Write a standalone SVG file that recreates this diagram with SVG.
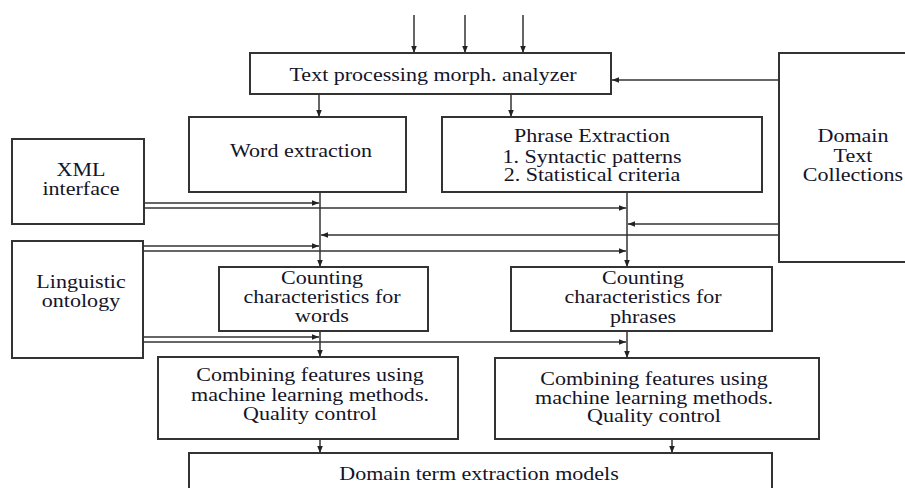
<svg xmlns="http://www.w3.org/2000/svg" width="905" height="488" viewBox="0 0 905 488">
<style>
.box{fill:#fff;stroke:#333;stroke-width:2}
.t{font-family:'Liberation Serif','Times New Roman',serif;font-size:19px;fill:#141428;text-anchor:middle}
.c{stroke:#333;stroke-width:1.5;fill:none}
.a{marker-end:url(#ah)}
</style>
<defs>
<marker id="ah" viewBox="0 0 10 10" refX="10" refY="5" markerWidth="7" markerHeight="7" markerUnits="userSpaceOnUse" orient="auto">
<path d="M0,1 L10,5 L0,9 Z" fill="#222"/>
</marker>
</defs>
<rect width="905" height="488" fill="#fff"/>
<g id="connectors">
<line class="c a" x1="414" y1="15" x2="414" y2="53"/>
<line class="c a" x1="465" y1="15" x2="465" y2="53"/>
<line class="c a" x1="523" y1="15" x2="523" y2="53"/>
<line class="c a" x1="779" y1="80" x2="612" y2="80"/>
<line class="c a" x1="319" y1="94" x2="319" y2="117"/>
<line class="c a" x1="511" y1="94" x2="511" y2="117"/>
<line class="c a" x1="320" y1="192" x2="320" y2="267"/>
<line class="c a" x1="627" y1="192" x2="627" y2="267"/>
<line class="c a" x1="144" y1="203" x2="319" y2="203"/>
<line class="c a" x1="144" y1="208" x2="626" y2="208"/>
<line class="c a" x1="779" y1="224" x2="628" y2="224"/>
<line class="c a" x1="779" y1="235" x2="321" y2="235"/>
<line class="c a" x1="143" y1="246" x2="319" y2="246"/>
<line class="c a" x1="143" y1="251" x2="626" y2="251"/>
<line class="c a" x1="143" y1="337" x2="319" y2="337"/>
<line class="c a" x1="143" y1="342" x2="626" y2="342"/>
<line class="c a" x1="320" y1="331" x2="320" y2="357"/>
<line class="c a" x1="627" y1="331" x2="627" y2="358"/>
<line class="c a" x1="320" y1="439" x2="320" y2="453"/>
<line class="c a" x1="672" y1="439" x2="672" y2="453"/>
</g>
<g id="text-processing">
<rect class="box" x="250" y="53" width="361" height="41"/>
<text class="t" transform="matrix(1.16,0,0,1,433,81)">Text processing morph. analyzer</text>
</g>
<g id="domain-text-collections">
<rect class="box" x="779" y="53" width="140" height="209"/>
<text class="t" transform="matrix(1.16,0,0,1,853,142)">Domain</text>
<text class="t" transform="matrix(1.16,0,0,1,853,162)">Text</text>
<text class="t" transform="matrix(1.16,0,0,1,853,181)">Collections</text>
</g>
<g id="word-extraction">
<rect class="box" x="189" y="117" width="217" height="75"/>
<text class="t" transform="matrix(1.16,0,0,1,301,157)">Word extraction</text>
</g>
<g id="phrase-extraction">
<rect class="box" x="442" y="117" width="320" height="75"/>
<text class="t" transform="matrix(1.16,0,0,1,592,142)">Phrase Extraction</text>
<text class="t" transform="matrix(1.16,0,0,1,592,163)">1. Syntactic patterns</text>
<text class="t" transform="matrix(1.16,0,0,1,592,181)">2. Statistical criteria</text>
</g>
<g id="xml-interface">
<rect class="box" x="12" y="139" width="132" height="85"/>
<text class="t" transform="matrix(1.16,0,0,1,81,176)">XML</text>
<text class="t" transform="matrix(1.16,0,0,1,81,195)">interface</text>
</g>
<g id="linguistic-ontology">
<rect class="box" x="12" y="241" width="131" height="117"/>
<text class="t" transform="matrix(1.16,0,0,1,81,288)">Linguistic</text>
<text class="t" transform="matrix(1.16,0,0,1,81,307)">ontology</text>
</g>
<g id="counting-words">
<rect class="box" x="219" y="267" width="209" height="64"/>
<text class="t" transform="matrix(1.16,0,0,1,322,284)">Counting</text>
<text class="t" transform="matrix(1.16,0,0,1,322,303)">characteristics for</text>
<text class="t" transform="matrix(1.16,0,0,1,322,322)">words</text>
</g>
<g id="counting-phrases">
<rect class="box" x="511" y="267" width="261" height="64"/>
<text class="t" transform="matrix(1.16,0,0,1,643,284)">Counting</text>
<text class="t" transform="matrix(1.16,0,0,1,643,303)">characteristics for</text>
<text class="t" transform="matrix(1.16,0,0,1,643,323)">phrases</text>
</g>
<g id="combining-words">
<rect class="box" x="158" y="357" width="300" height="82"/>
<text class="t" transform="matrix(1.16,0,0,1,310,381)">Combining features using</text>
<text class="t" transform="matrix(1.16,0,0,1,310,401)">machine learning methods.</text>
<text class="t" transform="matrix(1.16,0,0,1,310,420)">Quality control</text>
</g>
<g id="combining-phrases">
<rect class="box" x="495" y="358" width="324" height="81"/>
<text class="t" transform="matrix(1.16,0,0,1,654,385)">Combining features using</text>
<text class="t" transform="matrix(1.16,0,0,1,654,404)">machine learning methods.</text>
<text class="t" transform="matrix(1.16,0,0,1,654,422)">Quality control</text>
</g>
<g id="domain-term-models">
<rect class="box" x="189" y="453" width="583" height="50"/>
<text class="t" transform="matrix(1.16,0,0,1,479,480)">Domain term extraction models</text>
</g>
</svg>
